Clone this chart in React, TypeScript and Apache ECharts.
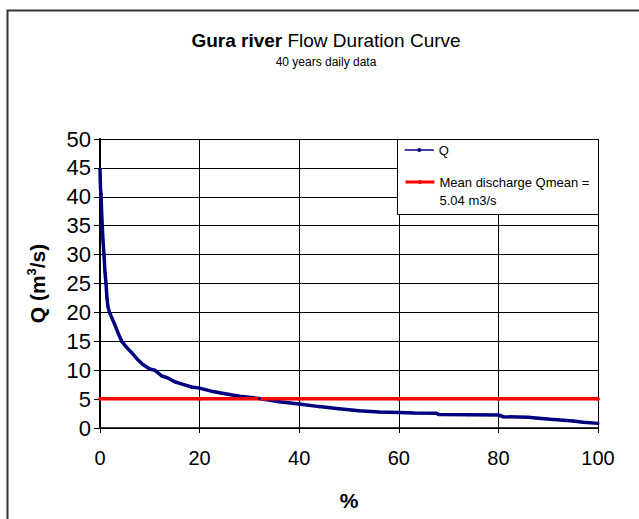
import React, { useEffect, useRef } from "react";
import * as echarts from "echarts";

// Flow duration curve: exceedance percentage (%) vs discharge Q (m3/s)
const exceedance = [
  0, 0.05, 0.1, 0.2, 0.3, 0.45, 0.6, 0.8, 1.0, 1.2, 1.4, 1.6, 1.9, 2.4, 2.9, 3.6,
  4.35, 5.3, 6.4, 7.4, 8.6, 10, 11, 12.4, 13.5, 15, 16.5, 18.4, 20, 22.7, 24, 28,
  32, 36, 40, 44, 48, 52, 56, 60, 63, 67.5, 68, 74, 80, 81, 86, 88, 90.5, 95, 97, 100,
];
const discharge = [
  44.8, 43, 41.5, 40.5, 38, 35, 32.5, 30, 27, 25, 22.5, 21, 20, 19, 18, 16.5,
  15, 14, 13, 12, 11, 10.2, 10, 9, 8.7, 8, 7.6, 7.1, 6.9, 6.3, 6.1, 5.5,
  5.1, 4.55, 4.15, 3.7, 3.35, 3.0, 2.75, 2.7, 2.6, 2.55, 2.35, 2.3, 2.25, 1.95, 1.85, 1.7, 1.5, 1.2, 1.0, 0.8,
];
const meanX = [0, 20, 40, 60, 80, 100];
const meanQ = 5.04;
const xTicks = [0, 20, 40, 60, 80, 100];
const yTicks = [0, 5, 10, 15, 20, 25, 30, 35, 40, 45, 50];

const seriesQName = "Q";
const seriesMeanName = "Mean discharge Qmean =\n5.04 m3/s";

const FONT = "'Liberation Sans', Arial, sans-serif";

export default function App() {
  const ref = useRef<HTMLDivElement>(null);

  useEffect(() => {
    document.body.style.margin = "0";
    if (!ref.current) return;
    const chart = echarts.init(ref.current, undefined, { renderer: "svg" });

    const qData = exceedance.map((x, i) => [x, discharge[i]]);
    const meanData = meanX.map((x) => [x, meanQ]);

    chart.setOption({
      animation: false,
      backgroundColor: "#ffffff",
      textStyle: { fontFamily: FONT, color: "#000" },
      title: {
        text: "{b|Gura river} Flow Duration Curve",
        subtext: "40 years daily data",
        left: 326,
        top: 31,
        padding: 0,
        textAlign: "center",
        itemGap: 6,
        textStyle: {
          fontFamily: FONT,
          fontSize: 19,
          fontWeight: "normal",
          color: "#000",
          rich: {
            b: { fontFamily: FONT, fontSize: 19, fontWeight: "bold", color: "#000" },
          },
        },
        subtextStyle: { fontFamily: FONT, fontSize: 12, color: "#000" },
      },
      graphic: [
        {
          type: "rect",
          shape: { x: 7.5, y: 10.5, width: 640, height: 520 },
          style: { fill: "none", stroke: "#333", lineWidth: 2 },
          silent: true,
          z: 0,
        },
        {
          type: "rect",
          shape: { x: 397.5, y: 139.5, width: 201, height: 75 },
          style: { fill: "#fff", stroke: "#000", lineWidth: 1 },
          silent: true,
          z: 3,
        },
      ],
      legend: [
        {
          data: [seriesQName],
          orient: "vertical",
          left: 404,
          top: 141,
          padding: 0,
          itemWidth: 29,
          itemHeight: 5,
          z: 5,
          lineStyle: { width: 1.5 },
          textStyle: { fontFamily: FONT, fontSize: 13, color: "#000", lineHeight: 18 },
        },
        {
          data: [seriesMeanName],
          orient: "vertical",
          left: 404,
          top: 155,
          padding: 0,
          itemWidth: 29,
          itemHeight: 5,
          z: 5,
          lineStyle: { width: 3 },
          formatter: (name: string) => " \n" + name,
          textStyle: {
            fontFamily: FONT,
            fontSize: 13,
            color: "#000",
            lineHeight: 18,
          },
        },
      ],
      grid: { left: 100, right: 41, top: 139, bottom: 91, containLabel: false },
      xAxis: {
        type: "value",
        min: xTicks[0],
        max: xTicks[xTicks.length - 1],
        interval: 20,
        name: "%",
        nameLocation: "middle",
        nameGap: 62,
        nameTextStyle: { fontFamily: FONT, fontSize: 21, fontWeight: "bold", color: "#000" },
        axisLine: { show: true, onZero: false, lineStyle: { color: "#000", width: 1.5 } },
        axisTick: { show: true, inside: false, length: 5, lineStyle: { color: "#000" } },
        axisLabel: { fontFamily: FONT, fontSize: 20, color: "#000", margin: 20 },
        splitLine: { show: true, lineStyle: { color: "#000", width: 1 } },
      },
      yAxis: {
        type: "value",
        min: yTicks[0],
        max: yTicks[yTicks.length - 1],
        interval: 5,
        name: "Q (m{sup|3}/s)",
        nameLocation: "middle",
        nameGap: 51,
        nameRotate: 90,
        nameTextStyle: {
          fontFamily: FONT,
          fontSize: 21,
          fontWeight: "bold",
          color: "#000",
          rich: {
            sup: {
              fontFamily: FONT,
              fontSize: 13,
              fontWeight: "bold",
              color: "#000",
              verticalAlign: "top",
              lineHeight: 24,
              padding: [0, 0, 10, 0],
            },
          },
        },
        axisLine: { show: true, lineStyle: { color: "#000", width: 2 } },
        axisTick: { show: true, inside: false, length: 6, lineStyle: { color: "#000" } },
        axisLabel: { fontFamily: FONT, fontSize: 22, color: "#000", margin: 9 },
        splitLine: { show: true, lineStyle: { color: "#000", width: 1 } },
      },
      series: [
        {
          name: seriesQName,
          type: "line",
          data: qData,
          showSymbol: true,
          symbol: "circle",
          symbolSize: 3,
          lineStyle: { color: "#000080", width: 3.5 },
          itemStyle: { color: "#000080" },
          z: 2,
        },
        {
          name: seriesMeanName,
          type: "line",
          data: meanData,
          showSymbol: true,
          symbol: "circle",
          symbolSize: 4,
          lineStyle: { color: "#ff0000", width: 3.5 },
          itemStyle: { color: "#ff0000" },
          z: 2,
        },
      ],
    });

    return () => {
      chart.dispose();
    };
  }, []);

  return <div ref={ref} style={{ width: 639, height: 519 }} />;
}
